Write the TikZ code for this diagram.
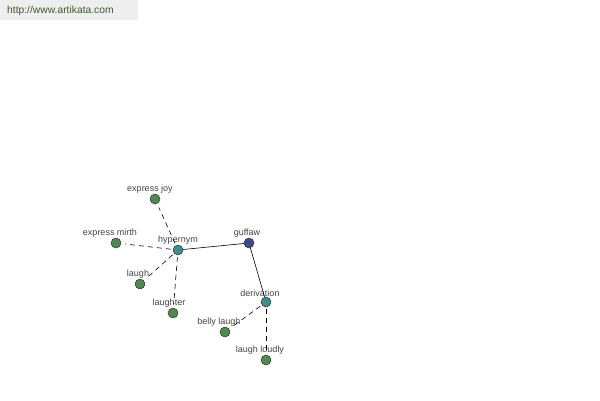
\documentclass[tikz,border=0pt]{standalone}
\usepackage{fontspec}
\setmainfont{Liberation Sans}
\definecolor{leafgreen}{HTML}{4E8A4E}
\definecolor{relteal}{HTML}{3E8C8C}
\definecolor{headblue}{HTML}{3F4A8E}
\definecolor{labelgray}{HTML}{444444}
\definecolor{bannergray}{HTML}{EEEEEE}
\definecolor{bannertext}{HTML}{3D5A2A}
\tikzset{
  word/.style 2 args={circle,draw=black!80,line width=0.5pt,minimum size=10pt,inner sep=0pt,
    label={[text=labelgray,font=\fontsize{9}{10}\selectfont,label distance=-3pt,xshift=#2]above:#1}},
  leaf/.style 2 args={word={#1}{#2},fill=leafgreen},
  rel/.style 2 args={word={#1}{#2},fill=relteal},
  head/.style 2 args={word={#1}{#2},fill=headblue},
  link/.style={line width=0.6pt},
  dlink/.style={line width=0.6pt,dash pattern=on 5pt off 4pt,shorten <=2pt,shorten >=4pt}
}
\begin{document}
\begin{tikzpicture}[x=1pt,y=-1pt]
    \useasboundingbox (0,0) rectangle (600,400);
    \fill [bannergray] (0,0) rectangle (138,20);
    \node (site) [anchor=west,text=bannertext,font=\fontsize{10.3}{11}\selectfont,inner sep=0pt] at (7,11) {http://www.artikata.com};
    % nodes
    \node (hyp) [rel={hypernym}{0pt}] at (178,250) {};
    \node (guf) [head={guffaw}{-2pt}] at (249,243) {};
    \node (der) [rel={derivation}{-6pt}] at (266,302) {};
    \node (joy) [leaf={express joy}{-5pt}] at (155,199) {};
    \node (mirth) [leaf={express mirth}{-6pt}] at (116,243) {};
    \node (laugh) [leaf={laugh}{-2pt}] at (140,284) {};
    \node (laughter) [leaf={laughter}{-4pt}] at (173,313) {};
    \node (belly) [leaf={belly laugh}{-6pt}] at (225,332) {};
    \node (loud) [leaf={laugh loudly}{-6pt}] at (266,360) {};
    % connectors
    \draw [link] (hyp) -- (guf);
    \draw [link] (guf) -- (der);
    \draw [dlink] (hyp) -- (joy);
    \draw [dlink] (hyp) -- (mirth);
    \draw [dlink] (hyp) -- (laugh);
    \draw [dlink] (hyp) -- (laughter);
    \draw [dlink] (der) -- (belly);
    \draw [dlink] (der) -- (loud);
\end{tikzpicture}
\end{document}
